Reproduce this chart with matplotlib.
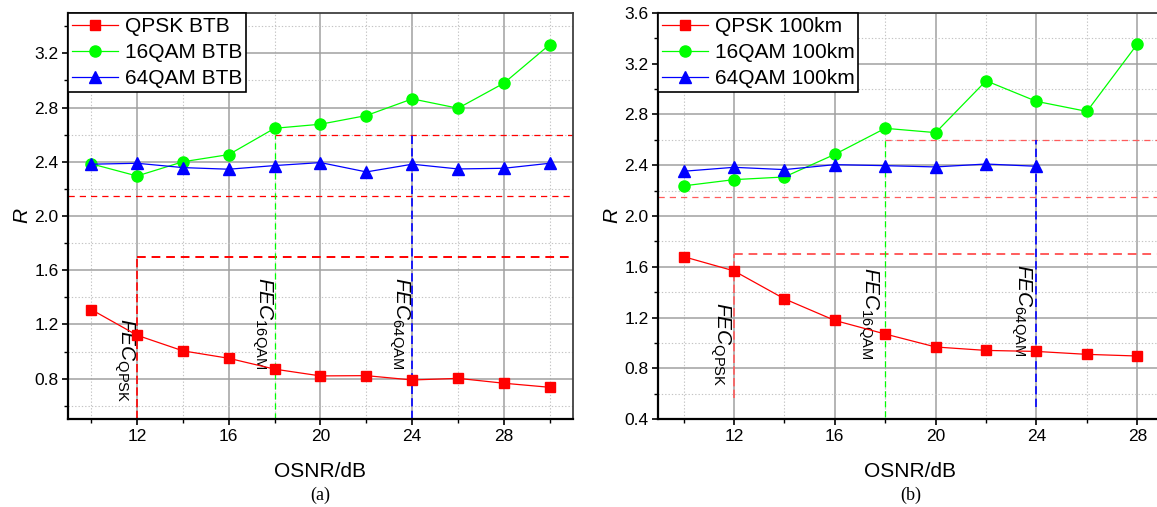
import matplotlib
matplotlib.use('Agg')
import matplotlib.pyplot as plt
from matplotlib.ticker import MultipleLocator, FormatStrFormatter

plt.rcParams['font.family'] = ['Liberation Sans', 'DejaVu Sans']
plt.rcParams['mathtext.fontset'] = 'custom'
plt.rcParams['mathtext.it'] = 'Liberation Sans:italic'
plt.rcParams['mathtext.rm'] = 'Liberation Sans'
plt.rcParams['mathtext.default'] = 'it'

# (a) back-to-back
osnr_a = [10, 12, 14, 16, 18, 20, 22, 24, 26, 28, 30]
qpsk_btb = [1.31, 1.12, 1.005, 0.95, 0.87, 0.82, 0.822, 0.79, 0.802, 0.766, 0.736]
qam16_btb = [2.385, 2.295, 2.40, 2.453, 2.647, 2.677, 2.741, 2.864, 2.795, 2.98, 3.265]
qam64_btb = [2.382, 2.389, 2.357, 2.345, 2.372, 2.394, 2.325, 2.382, 2.347, 2.352, 2.389]

# (b) after 100 km
osnr_b = [10, 12, 14, 16, 18, 20, 22, 24, 26, 28]
qpsk_100 = [1.68, 1.568, 1.348, 1.178, 1.071, 0.969, 0.942, 0.934, 0.911, 0.898]
qam16_100 = [2.237, 2.286, 2.307, 2.485, 2.69, 2.656, 3.064, 2.902, 2.823, 3.353]
osnr_b64 = [10, 12, 14, 16, 18, 20, 22, 24]
qam64_100 = [2.352, 2.383, 2.365, 2.404, 2.396, 2.386, 2.409, 2.391]

# FEC thresholds: OSNR and R limit for each format
fec_osnr = {'QPSK': 12, '16QAM': 18, '64QAM': 24}
fec_r = {'QPSK': 1.7, '16QAM': 2.6, '64QAM': 2.6}
r_mid = 2.15

RED, GREEN, BLUE = '#ff0000', '#00ff00', '#0000ff'

fig = plt.figure(figsize=(11.57, 5.07), dpi=100)
ax_a = fig.add_axes([0.0590, 0.173, 0.4360, 0.802])
ax_b = fig.add_axes([0.5690, 0.173, 0.4358, 0.802])


def style_axes(ax, xlim, ylim):
    ax.set_xlim(*xlim)
    ax.set_ylim(*ylim)
    ax.xaxis.set_major_locator(MultipleLocator(4))
    ax.xaxis.set_minor_locator(MultipleLocator(2))
    ax.yaxis.set_major_locator(MultipleLocator(0.4))
    ax.yaxis.set_minor_locator(MultipleLocator(0.2))
    ax.yaxis.set_major_formatter(FormatStrFormatter('%.1f'))
    ax.set_axisbelow(True)
    ax.grid(which='major', color='#a0a0a0', linewidth=1.1, linestyle='-')
    ax.grid(which='minor', color='#c4c4c4', linewidth=0.8, linestyle=(0, (1.2, 1.8)))
    ax.tick_params(which='major', direction='out', length=4, width=1.2,
                   labelsize=12.5, pad=3, colors='black')
    ax.tick_params(which='minor', direction='out', length=3, width=1.0)
    for side in ['left', 'bottom']:
        ax.spines[side].set_linewidth(1.6)
        ax.spines[side].set_color('black')
    for side in ['top', 'right']:
        ax.spines[side].set_linewidth(1.3)
        ax.spines[side].set_color('#404040')
    ax.set_xlabel('OSNR/dB', fontsize=15, labelpad=13)
    ax.set_ylabel('$R$', fontsize=15, labelpad=2)


def fec_lines(ax, ref_color, bottoms, xmax, thin_dash, thick_dash):
    # horizontal R limits
    ax.plot([ax.get_xlim()[0], xmax], [r_mid, r_mid], color=ref_color, lw=0.9, dashes=thin_dash, zorder=2)
    ax.plot([fec_osnr['16QAM'], xmax], [fec_r['16QAM']] * 2, color=ref_color, lw=0.9, dashes=thin_dash, zorder=2)
    ax.plot([fec_osnr['QPSK'], xmax], [fec_r['QPSK']] * 2, color=ref_color, lw=1.4, dashes=thick_dash, zorder=2)
    # vertical OSNR limits
    ax.plot([fec_osnr['QPSK']] * 2, [bottoms[0], fec_r['QPSK']], color=ref_color, lw=1.2, dashes=(5, 2), zorder=2)
    ax.plot([fec_osnr['16QAM']] * 2, [bottoms[1], fec_r['16QAM']], color=GREEN, lw=0.9, dashes=(5, 3), zorder=2)
    ax.plot([fec_osnr['64QAM']] * 2, [bottoms[2], fec_r['64QAM']], color=BLUE, lw=1.2, dashes=(5, 2.5), zorder=2)


def fec_text(ax, x, y, sub):
    ax.text(x, y, r'$FEC_{\mathrm{%s}}$' % sub, rotation=-90, fontsize=15,
            ha='right', va='top', zorder=3)


def draw_series(ax, x1, y1, l1, x2, y2, l2, x3, y3, l3):
    ax.plot(x1, y1, color=RED, lw=0.9, marker='s', ms=7.5, mec=RED, label=l1, zorder=4)
    ax.plot(x2, y2, color=GREEN, lw=0.9, marker='o', ms=8, mec=GREEN, label=l2, zorder=4)
    ax.plot(x3, y3, color=BLUE, lw=0.9, marker='^', ms=9, mec=BLUE, label=l3, zorder=4)
    leg = ax.legend(loc='upper left', bbox_to_anchor=(0, 1), borderaxespad=0,
                    fontsize=15, handlelength=2.2, handletextpad=0.3,
                    labelspacing=0.34, borderpad=0.2, fancybox=False,
                    framealpha=1, edgecolor='black')
    leg.get_frame().set_linewidth(1.2)
    leg.set_zorder(6)


# panel (a)
style_axes(ax_a, (9, 31), (0.5, 3.5))
fec_lines(ax_a, RED, [0.5, 0.5, 0.5], 31, (5, 4), (4.5, 3))
draw_series(ax_a, osnr_a, qpsk_btb, 'QPSK BTB', osnr_a, qam16_btb, '16QAM BTB',
            osnr_a, qam64_btb, '64QAM BTB')
fec_text(ax_a, 11.99, 1.245, 'QPSK')
fec_text(ax_a, 18.0, 1.553, '16QAM')
fec_text(ax_a, 23.97, 1.553, '64QAM')

# panel (b)
style_axes(ax_b, (9, 29), (0.4, 3.6))
fec_lines(ax_b, '#ff5c5c', [0.565, 0.42, 0.5], 29, (5, 4), (4.5, 3))
draw_series(ax_b, osnr_b, qpsk_100, 'QPSK 100km', osnr_b, qam16_100, '16QAM 100km',
            osnr_b64, qam64_100, '64QAM 100km')
fec_text(ax_b, 11.96, 1.325, 'QPSK')
fec_text(ax_b, 17.83, 1.60, '16QAM')
fec_text(ax_b, 23.89, 1.626, '64QAM')

fig.text(0.277, 0.006, '(a)', fontsize=13, family='Liberation Serif', ha='center', va='bottom')
fig.text(0.787, 0.006, '(b)', fontsize=13, family='Liberation Serif', ha='center', va='bottom')

fig.savefig('out.png', dpi=100)
